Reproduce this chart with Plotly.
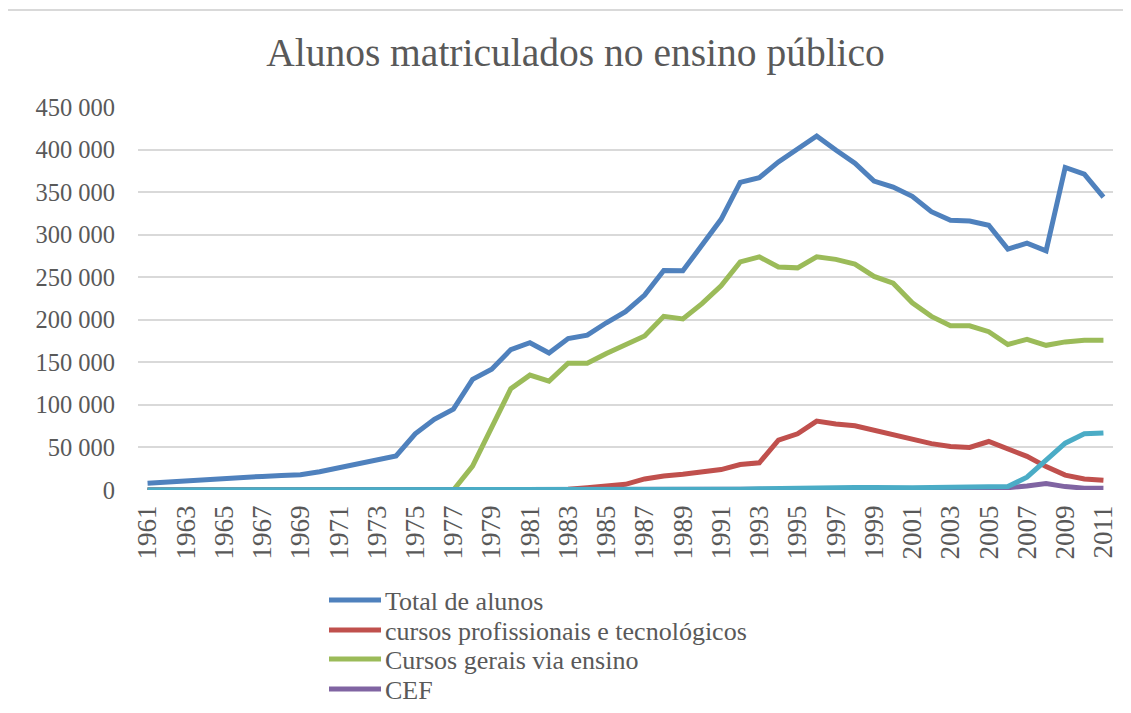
import plotly.graph_objects as go

years = list(range(1961, 2012))

total_alunos = [8000, 9500, 11000, 12500, 14000, 15000, 16000, 17000, 18000, 21500,
                26500, 30000, 36000, 40000, 66000, 83000, 95000, 130000, 142000, 165000,
                173000, 161000, 178000, 182000, 196500, 209500, 229000, 258000, 257500, 288000,
                318000, 361500, 367000, 385500, 400000, 416000, 399500, 384000, 363000, 356000,
                345000, 327000, 317000, 316000, 311000, 283000, 290000, 281000, 379000, 371000, 344000]

profissionais = [0] * 22 + [800, 2700, 4700, 6700, 13000, 16500, 18500, 21500, 24000, 30000,
                            32000, 58500, 66000, 81000, 77500, 75500, 70000, 64000, 59500, 54500,
                            51000, 50000, 57000, 49000, 39500, 27500, 17500, 13000, 11500]

gerais = [0] * 17 + [28000, 72000, 119000, 135000, 128000, 149000, 149000, 160500, 170500, 181000,
                     204000, 201000, 219000, 240000, 268000, 274000, 262000, 261000, 274000, 271000,
                     265500, 251000, 243000, 220000, 204000, 193000, 193000, 186000, 171000, 177000,
                     170000, 174000, 176000, 176000]

cef = [0] * 41 + [500, 1000, 1500, 2000, 2700, 4700, 7500, 4000, 2200, 2000]

outros = [0] * 30 + [500, 1000, 1500, 2000, 2500, 3000, 3000, 3000, 3000, 2500,
                     2500, 3000, 3000, 3000, 3500, 4000, 15000, 35000, 55000, 66000, 67000]

series_names = ["Total de alunos", "cursos profissionais e tecnológicos",
                "Cursos gerais via ensino", "CEF", "Outros"]
series_values = [total_alunos, profissionais, gerais, cef, outros]
series_colors = ["#4F81BD", "#C0504D", "#9BBB59", "#8064A2", "#4BACC6"]
legend_shown = [True, True, True, True, False]

tick_years = list(range(1961, 2012, 2))
y_ticks = list(range(0, 450001, 50000))

FONT = "Liberation Serif"
GREY = "#595959"

OFF = 8  # page body margin offset in the screenshot
W, H = 1131, 713
# plot area in screenshot pixels: x 138..1113, y 107..490
PL, PR, PT, PB = 138, 1113, 107, 490
L = PL - OFF
R = W - (PR - OFF)
T = PT - OFF
B = H - (PB - OFF)
pw, ph = PR - PL, PB - PT


def px_x(p):
    return (p - PL) / pw


def px_y(p):
    return (PB - p) / ph


fig = go.Figure()
for name, vals, color in zip(series_names, series_values, series_colors):
    fig.add_trace(go.Scatter(
        x=years, y=vals, name=name, mode="lines",
        line=dict(color=color, width=5),
        showlegend=False,
    ))

# legend drawn below the plot, Excel style
shapes = [dict(type="rect", xref="paper", yref="paper",
               x0=px_x(5), x1=px_x(1300), y0=px_y(900), y1=px_y(10),
               line=dict(color="#D9D9D9", width=2), layer="below")]
annotations = []
row_y = [600, 630, 659, 689]
shown = [(n, c) for n, c, s in zip(series_names, series_colors, legend_shown) if s]
for (name, color), ry in zip(shown, row_y):
    shapes.append(dict(type="line", xref="paper", yref="paper",
                       x0=px_x(329), x1=px_x(381), y0=px_y(ry), y1=px_y(ry),
                       line=dict(color=color, width=5)))
    annotations.append(dict(text=name, xref="paper", yref="paper",
                            x=px_x(383), y=px_y(ry + 1), xanchor="left", yanchor="middle",
                            showarrow=False,
                            font=dict(family=FONT, size=26, color=GREY)))

fig.update_layout(
    width=W, height=H,
    margin=dict(l=L, r=R, t=T, b=B, autoexpand=False),
    paper_bgcolor="white", plot_bgcolor="white",
    separators=", ",
    showlegend=False,
    font=dict(family=FONT, color=GREY),
    title=dict(text="Alunos matriculados no ensino público",
               font=dict(family=FONT, size=39.5, color=GREY),
               x=(575.5 - OFF) / W, xanchor="center", xref="container",
               y=1 - (52 - OFF) / H, yanchor="middle", yref="container"),
    xaxis=dict(range=[1960.5, 2011.5], tickvals=tick_years,
               ticktext=[str(y) for y in tick_years], tickangle=-90,
               showgrid=False, zeroline=False, showline=False, ticks="",
               automargin=False,
               tickfont=dict(family=FONT, size=27, color=GREY),
               ticklabelstandoff=9),
    yaxis=dict(range=[0, 450000], tickvals=y_ticks, tickformat=",d",
               showgrid=True, gridcolor="#D9D9D9", gridwidth=1.5,
               zeroline=False, showline=False, ticks="",
               automargin=False,
               tickfont=dict(family=FONT, size=24.5, color=GREY),
               ticklabelstandoff=22),
    shapes=shapes,
    annotations=annotations,
)

fig.write_html("out.html")
